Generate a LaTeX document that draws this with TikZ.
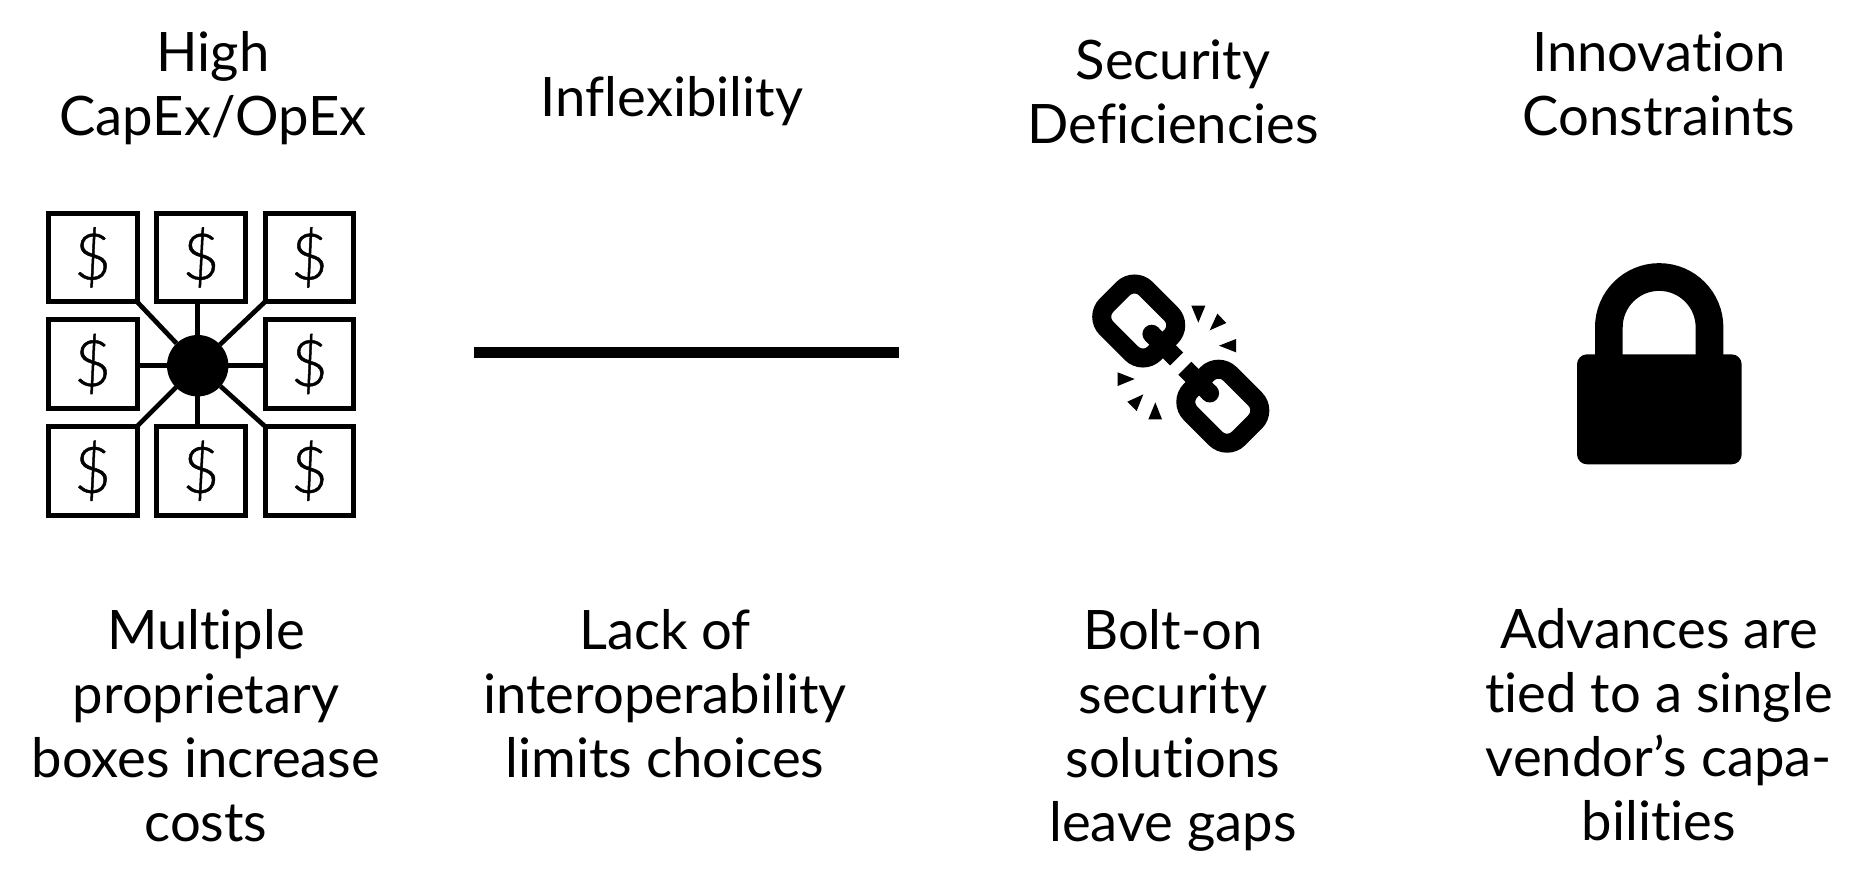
\documentclass[tikz,border=0pt]{standalone}
\usepackage{fontspec}
\setmainfont[Ligatures=NoCommon]{Lato}
\newfontfamily\dollarfont[RawFeature={embolden=0.7}]{Lato Light}
\newcommand{\dollarmark}{\raisebox{-1.1pt}{\$}}
\tikzset{
  x=0.5pt,y=-0.5pt,
  label text/.style={align=center,inner sep=0pt,outer sep=0pt,font=\fontsize{27.2}{32}\selectfont},
  dollar box/.style={draw=black,line width=2.5pt,rectangle,minimum width=44.4pt,minimum height=44.4pt,inner sep=0pt,outer sep=0pt,font=\dollarfont\fontsize{32}{32}\selectfont},
  spoke/.style={draw=black,line width=2.35pt},
  hub dot/.style={circle,fill=black,minimum size=30.7pt,inner sep=0pt,outer sep=0pt},
  chain ring/.style={draw=black,line width=9.5pt,rounded corners=8.1pt},
  shard/.style={fill=black}
}
\begin{document}
\begin{tikzpicture}
\useasboundingbox (0,0) rectangle (1866,889);
% headings
\node[label text] (h1) at (213,88) {High\\CapEx/OpEx};
\node[label text] (h2) at (672,101.5) {Inflexibility};
\node[label text] (h3) at (1173,91.5) {Security\\Deficiencies};
\node[label text] (h4) at (1659,83.5) {Innovation\\Constraints};
% descriptions
\node[label text] (d1) at (206,725.5) {Multiple\\proprietary\\boxes increase\\costs};
\node[label text] (d2) at (665,693.5) {Lack of\\interoperability\\limits choices};
\node[label text] (d3) at (1173,730.5) {Bolt-on\\security\\solutions\\leave gaps};
\node[label text] (d4) at (1659,725) {Advances are\\tied to a single\\vendor’s capa-\\bilities};
% boxes
\node[dollar box] (tl) at (92.7,257.4) {\dollarmark};
\node[dollar box] (tc) at (201,257.4) {\dollarmark};
\node[dollar box] (tr) at (309.4,257.4) {\dollarmark};
\node[dollar box] (ml) at (92.7,364) {\dollarmark};
\node[dollar box] (mr) at (309.4,364) {\dollarmark};
\node[dollar box] (bl) at (92.7,470.7) {\dollarmark};
\node[dollar box] (bc) at (201,470.7) {\dollarmark};
\node[dollar box] (br) at (309.4,470.7) {\dollarmark};
\node[hub dot] (hub) at (197.7,365.7) {};
\draw[spoke] (hub) -- (tl.south east);
\draw[spoke] (hub) -- (hub |- tc.south);
\draw[spoke] (hub) -- (tr.south west);
\draw[spoke] (hub) -- (hub -| ml.east);
\draw[spoke] (hub) -- (hub -| mr.west);
\draw[spoke] (hub) -- (bl.north east);
\draw[spoke] (hub) -- (hub |- bc.north);
\draw[spoke] (hub) -- (br.north west);
% bar
\fill[black] (474.3,347.3) rectangle (899,358);
% chain
\begin{scope}[shift={(1138.7,321)},rotate=-45]
  \draw[chain ring] (-33.9,-27.9) rectangle (33.9,27.9);
  \fill[black] (18.4,-9.2) rectangle (53.7,9.2);
  \fill[black] (18.4,0) circle[radius=9.3];
\end{scope}
\begin{scope}[shift={(1222.8,406.2)},rotate=135]
  \draw[chain ring] (-33.9,-27.9) rectangle (33.9,27.9);
  \fill[black] (18.4,-9.2) rectangle (53.7,9.2);
  \fill[black] (18.4,0) circle[radius=9.3];
\end{scope}
\begin{scope}[shift={(1060,250)},scale=1/3]
  \fill[shard] (394,167) -- (436,167) -- (415,218) -- cycle;
  \fill[shard] (472,191) -- (499,219) -- (449,241) -- cycle;
  \fill[shard] (528,267) -- (528,307) -- (477,287) -- cycle;
  \fill[shard] (173,367) -- (173,408) -- (224,387) -- cycle;
  \fill[shard] (202,455) -- (250,433) -- (230,483) -- cycle;
  \fill[shard] (286,457) -- (306,508) -- (265,508) -- cycle;
\end{scope}
% lock
\begin{scope}[shift={(1550,240)},scale=1/3]
  \fill[black,rounded corners=5pt] (81,343) rectangle (575,673);
  \draw[black,line width=13.85pt] (176.5,350) -- (176.5,262) arc[start angle=180,end angle=360,radius=151] -- (478.5,350);
\end{scope}
\end{tikzpicture}
\end{document}
